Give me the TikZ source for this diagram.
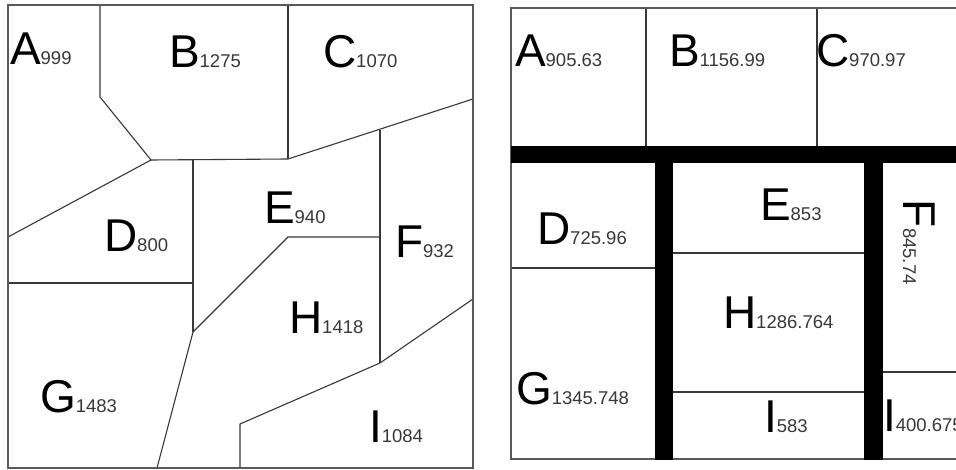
\documentclass[tikz,border=0pt]{standalone}
\usepackage{fontspec}
\setmainfont{Liberation Sans}
\newcommand\regionlabel[2]{{\fontsize{46}{46}\selectfont #1}{\fontsize{18.5}{18.5}\selectfont\color{black!78}#2}}
\begin{document}
\begin{tikzpicture}[x=1pt,y=-1pt,
  edge/.style={line width=1.1pt, draw=black!78, line join=miter},
  frame/.style={line width=1.3pt, draw=black!65},
  bar/.style={fill=black, draw=none},
  lab/.style={anchor=base west, inner sep=0pt, outer sep=0pt}]
\useasboundingbox (0,0) rectangle (956,470);
\clip (0,0) rectangle (956,470);
\fill[white] (0,0) rectangle (956,470);

% ---------- left panel ----------
\draw[edge] (100,5) -- (100,97) -- (151,160) -- (8,237);
\draw[edge] (151,160) -- (288,159) -- (473,99);
\draw[edge] (288,5) -- (288,159);
\draw[edge] (193,160) -- (193,332);
\draw[edge] (8,283) -- (193,283);
\draw[edge] (380,130) -- (380,363);
\draw[edge] (380,237) -- (288,237) -- (193,332) -- (157,468);
\draw[edge] (473,299) -- (380,363) -- (240,424) -- (240,468);
\draw[frame] (8,5) rectangle (473,468);

\node[lab] (lA) at (10,65)  {\regionlabel{A}{999}};
\node[lab] (lB) at (169,68) {\regionlabel{B}{1275}};
\node[lab] (lC) at (323,68) {\regionlabel{C}{1070}};
\node[lab] (lD) at (104,252) {\regionlabel{D}{800}};
\node[lab] (lE) at (264,224) {\regionlabel{E}{940}};
\node[lab] (lF) at (395,258) {\regionlabel{F}{932}};
\node[lab] (lG) at (40,412) {\regionlabel{G}{1483}};
\node[lab] (lH) at (289,334) {\regionlabel{H}{1418}};
\node[lab] (lI) at (369,442) {\regionlabel{I}{1084}};

% ---------- right panel ----------
\draw[edge] (646,8) -- (646,146);
\draw[edge] (817,8) -- (817,146);
\draw[edge] (511,268) -- (655,268);
\draw[edge] (673,253) -- (864,253);
\draw[edge] (673,392) -- (864,392);
\draw[edge] (883,372) -- (970,372);
\draw[frame] (511,8) rectangle (975,459);
\fill[bar] (511,146) rectangle (970,163);
\fill[bar] (655,163) rectangle (673,460);
\fill[bar] (864,163) rectangle (883,460);

\node[lab] (rA) at (515,67) {\regionlabel{A}{905.63}};
\node[lab] (rB) at (669,67) {\regionlabel{B}{1156.99}};
\node[lab] (rC) at (816,67) {\regionlabel{C}{970.97}};
\node[lab] (rD) at (537,245) {\regionlabel{D}{725.96}};
\node[lab] (rE) at (760,221) {\regionlabel{E}{853}};
\node[lab, rotate=-90] (rF) at (903,200) {\regionlabel{F}{845.74}};
\node[lab] (rG) at (516,404) {\regionlabel{G}{1345.748}};
\node[lab] (rH) at (723,329) {\regionlabel{H}{1286.764}};
\node[lab] (rI1) at (764,432) {\regionlabel{I}{583}};
\node[lab] (rI2) at (883,431) {\regionlabel{I}{400.675}};
\end{tikzpicture}
\end{document}
